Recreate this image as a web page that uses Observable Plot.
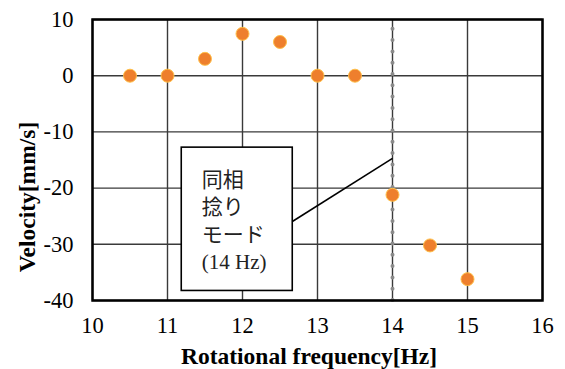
<!DOCTYPE html>
<html><head><meta charset="utf-8">
<script src="https://cdn.jsdelivr.net/npm/d3@7"></script>
<script src="https://cdn.jsdelivr.net/npm/@observablehq/plot@0.6"></script>
<style>
body{margin:0;background:#fff}
</style>
</head><body><div id="chart"></div>
<script>
const freq = [10.5, 11, 11.5, 12, 12.5, 13, 13.5, 14, 14.5, 15];
const velocity = [0, 0, 3, 7.45, 6, 0, 0, -21.2, -30.2, -36.2];
const xTicks = [10, 11, 12, 13, 14, 15, 16];
const yTicks = [-40, -30, -20, -10, 0, 10];
const markerFreq = [14];
const noteText = ["同相\n捻り\nモード\n(14 Hz)"];
const noteBox = [{x1: 11.19, x2: 12.67, y1: -38.3, y2: -12.8}];
const noteLeader = [{x1: 12.67, y1: -25.9, x2: 14, y2: -14.7}];
const xTitle = "Rotational frequency[Hz]";
const yTitle = "Velocity[mm/s]";

const points = freq.map((f, i) => ({f, v: velocity[i]}));
const serif = "Liberation Serif, serif";

const chart = Plot.plot({
  width: 565,
  height: 369,
  marginLeft: 92,
  marginRight: 23,
  marginTop: 19,
  marginBottom: 69,
  style: {fontFamily: serif, fontSize: "22px", background: "#fff", color: "#000"},
  x: {domain: [10, 16]},
  y: {domain: [-40, 10]},
  marks: [
    Plot.ruleX(xTicks, {stroke: "#3a3a3a", strokeWidth: 1.4}),
    Plot.ruleY(yTicks, {stroke: "#3a3a3a", strokeWidth: 1.4}),
    Plot.ruleX(markerFreq, {x: d => d, y1: -40, y2: 10, stroke: "#8a8a8a", strokeWidth: 4, strokeDasharray: "0 11.3", strokeLinecap: "round"}),
    Plot.link(noteLeader, {x1: "x1", y1: "y1", x2: "x2", y2: "y2", stroke: "#000", strokeWidth: 1.6}),
    Plot.rect(noteBox, {x1: "x1", x2: "x2", y1: "y1", y2: "y2", fill: "#fff", stroke: "#000", strokeWidth: 1.6}),
    Plot.text(noteText, {x: noteBox[0].x1, y: noteBox[0].y2, text: d => d, textAnchor: "start", lineAnchor: "top", dx: 20, dy: 20, lineHeight: 1.3, fontSize: 21, fontFamily: "Liberation Serif, Noto Sans CJK JP, serif", fill: "#222"}),
    Plot.dot(points, {x: "f", y: "v", r: 6.5, fill: "#EE7F2D", stroke: "#FFC04A", strokeWidth: 1}),
    Plot.frame({stroke: "#000", strokeWidth: 2.5}),
    Plot.axisX({ticks: xTicks, tickFormat: d => String(d), tickSize: 0, tickPadding: 17, fontSize: 22.5, fontFamily: serif, label: null}),
    Plot.axisY({ticks: yTicks, tickFormat: d => String(d), tickSize: 0, tickPadding: 19, fontSize: 22.5, fontFamily: serif, label: null}),
    Plot.text([xTitle], {frameAnchor: "bottom", text: d => d, textAnchor: "middle", lineAnchor: "middle", dy: 56, dx: -8.5, fontSize: 23.5, fontWeight: "bold", fontFamily: serif}),
    Plot.text([yTitle], {frameAnchor: "left", text: d => d, textAnchor: "middle", lineAnchor: "middle", dx: -65, dy: 37, rotate: -90, fontSize: 23.5, fontWeight: "bold", fontFamily: serif})
  ]
});
document.getElementById("chart").appendChild(chart);
</script>
</body></html>
